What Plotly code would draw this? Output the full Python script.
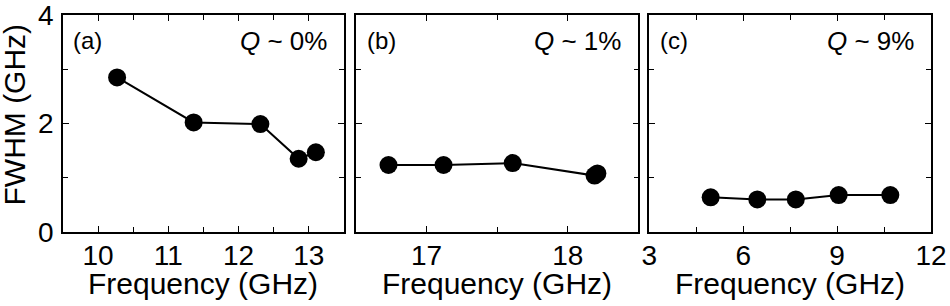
import plotly.graph_objects as go

# Data
freq_a = [10.27, 11.36, 12.31, 12.855, 13.10]
fwhm_a = [2.85, 2.02, 1.99, 1.35, 1.47]
freq_b = [16.73, 17.12, 17.61, 18.19, 18.21]
fwhm_b = [1.235, 1.235, 1.27, 1.04, 1.08]
freq_c = [4.96, 6.45, 7.68, 9.05, 10.70]
fwhm_c = [0.64, 0.60, 0.60, 0.68, 0.68]
panel_labels = ["(a)", "(b)", "(c)"]
q_labels = ["<i>Q</i> ~ 0%", "<i>Q</i> ~ 1%", "<i>Q</i> ~ 9%"]
x_title = "Frequency (GHz)"
y_title = "FWHM (GHz)"
x_ranges = [[9.5, 13.5], [16.5, 18.5], [3, 12]]
x_ticks = [[10, 11, 12, 13], [17, 18], [3, 6, 9, 12]]
x_minor = [0.5, 0.5, 1.5]
y_ticks = [0, 2, 4]

FONT = "Liberation Sans, Arial, sans-serif"
L, R, T, B = 63, 19, 15, 74
W, H = 950, 306
PW, PH = W - L - R, H - T - B
domains = [[0.0, 0.3237], [0.3376, 0.6628], [0.6755, 1.0]]

fig = go.Figure()
series = [(freq_a, fwhm_a), (freq_b, fwhm_b), (freq_c, fwhm_c)]
for i, (xs, ys) in enumerate(series):
    sfx = "" if i == 0 else str(i + 1)
    fig.add_trace(go.Scatter(
        x=xs, y=ys, mode="lines+markers",
        line=dict(color="black", width=2),
        marker=dict(color="black", size=18),
        xaxis="x" + sfx, yaxis="y" + sfx, showlegend=False,
    ))

layout = dict(
    width=W, height=H,
    margin=dict(l=L, r=R, t=T, b=B, autoexpand=False),
    paper_bgcolor="white", plot_bgcolor="white",
    font=dict(family=FONT, color="black", size=28),
)
for i in range(3):
    sfx = "" if i == 0 else str(i + 1)
    xa = dict(
        domain=domains[i], range=x_ranges[i], anchor="y" + sfx,
        tickmode="array", tickvals=x_ticks[i],
        ticks="inside", ticklen=6, tickwidth=1.2, tickcolor="black",
        minor=dict(dtick=x_minor[i], ticks="inside", ticklen=5, tickwidth=1.2, tickcolor="black", showgrid=False),
        showline=True, linecolor="black", linewidth=1.5, mirror="ticks",
        showgrid=False, zeroline=False, automargin=False,
        tickfont=dict(size=28, family=FONT),
        ticklabeloverflow="allow",
        ticklabelstandoff=-2,
    )
    ya = dict(
        domain=[0, 1], range=[0, 4], anchor="x" + sfx,
        tickvals=y_ticks,
        ticks="inside", ticklen=6, tickwidth=1.2, tickcolor="black",
        minor=dict(dtick=1, ticks="inside", ticklen=5, tickwidth=1.2, tickcolor="black", showgrid=False),
        showline=True, linecolor="black", linewidth=1.5, mirror="ticks",
        showgrid=False, zeroline=False, automargin=False,
        showticklabels=(i == 0),
        tickfont=dict(size=28, family=FONT),
        ticklabeloverflow="allow",
        ticklabelstandoff=2,
    )
    layout["xaxis" + sfx] = xa
    layout["yaxis" + sfx] = ya

fig.update_layout(**layout)

for i in range(3):
    sfx = "" if i == 0 else str(i + 1)
    fig.add_annotation(
        text=panel_labels[i], xref="x" + sfx + " domain", yref="y" + sfx + " domain",
        x=0.03, y=0.955, xanchor="left", yanchor="top", showarrow=False,
        font=dict(size=24, family=FONT, color="black"),
    )
    fig.add_annotation(
        text=q_labels[i], xref="x" + sfx + " domain", yref="y" + sfx + " domain",
        x=0.945, y=0.96, xanchor="right", yanchor="top", showarrow=False,
        font=dict(size=26, family=FONT, color="black"),
    )
    cx = (domains[i][0] + domains[i][1]) / 2
    fig.add_annotation(
        text=x_title, xref="paper", yref="paper",
        x=cx, y=(PH - (283.5 - T)) / PH, xanchor="center", yanchor="middle",
        showarrow=False, font=dict(size=30, family=FONT, color="black"),
    )

fig.add_annotation(
    text=y_title, xref="paper", yref="paper",
    x=(13.5 - L) / PW, y=(PH - (115 - T)) / PH, xanchor="center", yanchor="middle",
    textangle=-90, showarrow=False, font=dict(size=30, family=FONT, color="black"),
)

fig.write_html(
    "out.html",
    config={"displayModeBar": False},
    post_script="document.body.style.margin='0';document.body.style.overflow='hidden';",
)
